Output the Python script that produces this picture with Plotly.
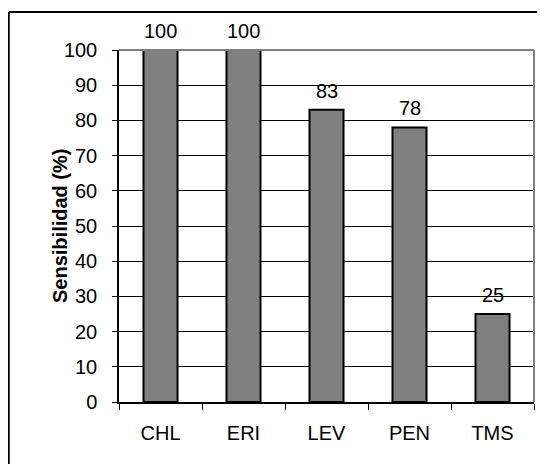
import plotly.graph_objects as go

categories = ["CHL", "ERI", "LEV", "PEN", "TMS"]
values = [100, 100, 83, 78, 25]
y_ticks = [0, 10, 20, 30, 40, 50, 60, 70, 80, 90, 100]

# page has an 8px body margin, so the figure is 8px smaller and offset
W, H = 537, 456
L, R, T, B = 111, 11, 42, 62
pw = W - L - R
ph = H - T - B

font = dict(family="Liberation Sans, Arial, sans-serif", size=20, color="black")

fig = go.Figure()
fig.add_trace(go.Bar(
    x=categories, y=values, width=0.41,
    marker=dict(color="#808080", line=dict(color="black", width=2)),
    hoverinfo="skip",
))

for c, v in zip(categories, values):
    fig.add_annotation(x=c, y=v, text=str(v), showarrow=False,
                       yanchor="bottom", yshift=6, font=font)

fig.add_annotation(xref="paper", yref="paper", x=(39 - L) / pw, y=0.5,
                   text="<b>Sensibilidad (%)</b>", textangle=-90,
                   showarrow=False, font=font)

# plot-area border (grey top and right)
fig.add_shape(type="line", xref="paper", yref="paper", x0=0, x1=1, y0=1, y1=1,
              line=dict(color="#808080", width=2), layer="above")
fig.add_shape(type="line", xref="paper", yref="paper", x0=1, x1=1, y0=0, y1=1,
              line=dict(color="#808080", width=2), layer="above")
# outer chart border (top and left edges visible)
top_y = (H - B - 4) / ph
left_x = (0.75 - L) / pw
fig.add_shape(type="line", xref="paper", yref="paper",
              x0=left_x, x1=(W - L) / pw, y0=top_y, y1=top_y,
              line=dict(color="black", width=2), layer="above")
fig.add_shape(type="line", xref="paper", yref="paper",
              x0=left_x, x1=left_x, y0=top_y, y1=-B / ph,
              line=dict(color="black", width=2), layer="above")

fig.update_layout(
    width=W, height=H,
    margin=dict(l=L, r=R, t=T, b=B, pad=0),
    paper_bgcolor="white", plot_bgcolor="white",
    showlegend=False, font=font,
)
fig.update_xaxes(
    type="category", tickson="boundaries", ticks="outside", ticklen=6,
    tickcolor="black", tickwidth=1, showline=True, linecolor="black",
    linewidth=1.5, showgrid=False, tickfont=font, ticklabelstandoff=12,
)
fig.update_yaxes(
    range=[0, 100], tickvals=y_ticks, ticks="outside", ticklen=5,
    tickcolor="black", tickwidth=1, showline=True, linecolor="black",
    linewidth=1.5, showgrid=True, gridcolor="black", gridwidth=1,
    zeroline=False, tickfont=font, ticklabelstandoff=11,
)

fig.write_html("out.html")
